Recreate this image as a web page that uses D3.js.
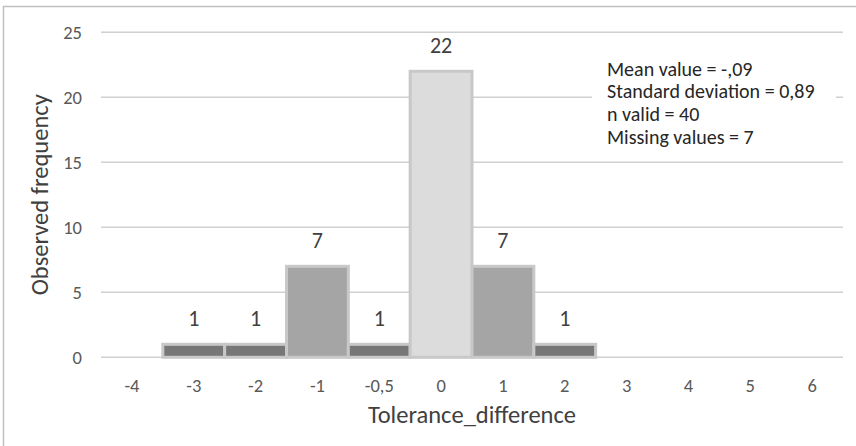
<!DOCTYPE html>
<html>
<head>
<meta charset="utf-8">
<script src="https://cdn.jsdelivr.net/npm/d3@7"></script>
<style>
  html, body { margin: 0; padding: 0; background: #fff; }
  svg { display: block; font-family: Carlito, Calibri, "Open Sans", sans-serif; }
</style>
</head>
<body>
<svg id="chart" width="856" height="446"></svg>
<script>
const categories = ["-4", "-3", "-2", "-1", "-0,5", "0", "1", "2", "3", "4", "5", "6"];
const frequencies = [0, 1, 1, 7, 1, 22, 7, 1, 0, 0, 0, 0];
const yTicks = [0, 5, 10, 15, 20, 25];
const statsLines = ["Mean value = -,09", "Standard deviation = 0,89", "n valid = 40", "Missing values = 7"];
const xTitle = "Tolerance_difference";
const yTitle = "Observed frequency";

const FONT = "Carlito, Calibri, 'Open Sans', sans-serif";
const svg = d3.select("#chart");
const W = 856, H = 446;
const plot = { left: 101, right: 843, top: 32.3, bottom: 357.3 };

const x = d3.scaleBand().domain(categories).range([plot.left, plot.right]).padding(0);
const y = d3.scaleLinear().domain([0, 25]).range([plot.bottom, plot.top]);
const fillFor = v => v >= 20 ? "#dcdcdc" : (v >= 5 ? "#a5a5a5" : "#777777");

// frame
svg.append("rect").attr("x", 3.5).attr("y", 6.5).attr("width", W + 20).attr("height", H + 20)
  .attr("fill", "none").attr("stroke", "#c0c0c0").attr("stroke-width", 1.5);

// gridlines
svg.append("g").selectAll("line").data(yTicks).join("line")
  .attr("x1", plot.left).attr("x2", plot.right)
  .attr("y1", d => y(d)).attr("y2", d => y(d))
  .attr("stroke", "#d0d0d0").attr("stroke-width", 1.5);

// y axis labels
const yAxis = d3.axisLeft(y).tickValues(yTicks).tickSize(0).tickPadding(0);
const yg = svg.append("g").attr("transform", `translate(${82},0)`).call(yAxis);
yg.select(".domain").remove();
yg.selectAll("text").attr("font-size", 18.5).attr("fill", "#595959").attr("font-family", FONT);

// x axis labels
const xAxis = d3.axisBottom(x).tickSize(0).tickPadding(0);
const xg = svg.append("g").attr("transform", `translate(0,${plot.bottom})`).call(xAxis);
xg.select(".domain").remove();
xg.selectAll("text").attr("font-size", 18.5).attr("fill", "#595959")
  .attr("dy", null).attr("y", 34.5).attr("font-family", FONT);

const data = categories.map((c, i) => ({ c, v: frequencies[i] })).filter(d => d.v > 0);

// bars
svg.append("g").selectAll("rect").data(data).join("rect")
  .attr("x", d => x(d.c)).attr("width", x.bandwidth())
  .attr("y", d => y(d.v)).attr("height", d => y(0) - y(d.v))
  .attr("fill", d => fillFor(d.v))
  .attr("stroke", "#c8c8c8").attr("stroke-width", 3);

// value labels
svg.append("g").selectAll("text").data(data).join("text")
  .attr("x", d => x(d.c) + x.bandwidth() / 2)
  .attr("y", d => y(d.v) - 18)
  .attr("text-anchor", "middle")
  .attr("font-size", 22).attr("fill", "#404040")
  .text(d => d.v);

// stats box
svg.append("rect").attr("x", 592).attr("y", 55).attr("width", 244).attr("height", 97).attr("fill", "#fff");
svg.append("g").selectAll("text").data(statsLines).join("text")
  .attr("x", 607).attr("y", (d, i) => 75.5 + i * 22.7)
  .attr("font-size", 20).attr("fill", "#262626")
  .text(d => d);

// axis titles
svg.append("text").attr("x", (plot.left + plot.right) / 2).attr("y", 423)
  .attr("text-anchor", "middle").attr("font-size", 24.5).attr("fill", "#404040").text(xTitle);
svg.append("text").attr("transform", `translate(48,${(plot.top + plot.bottom) / 2}) rotate(-90)`)
  .attr("text-anchor", "middle").attr("font-size", 24.5).attr("fill", "#404040").text(yTitle);
</script>
</body>
</html>
